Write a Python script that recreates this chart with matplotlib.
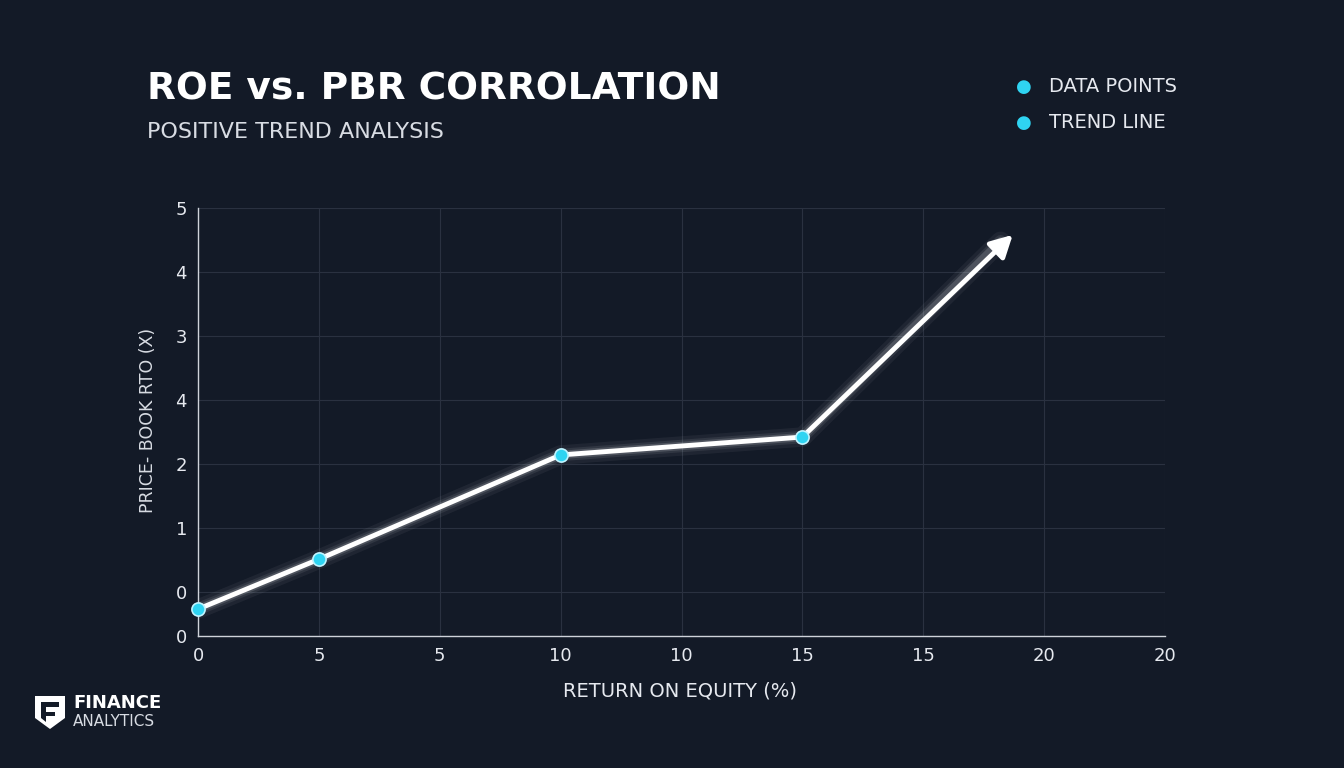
import matplotlib
matplotlib.use("Agg")
import matplotlib.pyplot as plt
from matplotlib.patches import Polygon

# data (axis units: x = tick slot index, y = position on the drawn scale)
x_tick_labels = ["0", "5", "5", "10", "10", "15", "15", "20", "20"]
y_tick_labels = ["0", "0", "1", "2", "4", "3", "4", "5"]
y_tick_pos = [0.0, 0.69, 1.69, 2.69, 3.69, 4.69, 5.69, 6.69]
pts_x = [0.0, 1.0, 3.0, 5.0]
pts_y = [0.42, 1.2, 2.83, 3.11]
arrow_end = (6.74, 6.27)

bg = "#131a27"
cyan = "#2fd4f2"
fig = plt.figure(figsize=(13.44, 7.68), dpi=100, facecolor=bg)
ax = fig.add_axes([198/1344, 132/768, 967/1344, 428/768], facecolor=bg)
ax.set_xlim(0, 8)
ax.set_ylim(0, 6.69)
ax.set_xticks(range(9))
ax.set_xticklabels(x_tick_labels)
ax.set_yticks(y_tick_pos)
ax.set_yticklabels(y_tick_labels)
ax.tick_params(colors="#e6e9ef", labelsize=13, length=0, pad=8)
ax.grid(color="#2a3140", linewidth=0.8)
for s in ["top", "right"]:
    ax.spines[s].set_visible(False)
for s in ["left", "bottom"]:
    ax.spines[s].set_color("#cfd3da")
    ax.spines[s].set_linewidth(1.0)

lx = pts_x + [arrow_end[0]]
ly = pts_y + [arrow_end[1]]
for w, a in [(14, 0.05), (9, 0.08), (6, 0.15)]:
    ax.plot(lx[:-1] + [lx[-1] - 0.1], ly[:-1] + [ly[-1] - 0.1], color="white", lw=w, alpha=a, solid_capstyle="round", zorder=2)
ax.plot(lx[:-1], ly[:-1], color="white", lw=3.5, zorder=3, solid_capstyle="round")
ax.annotate("", xy=arrow_end, xytext=(pts_x[-1], pts_y[-1]),
            arrowprops=dict(arrowstyle="-|>,head_length=1.3,head_width=0.7", color="white", lw=3.5, shrinkA=0, shrinkB=0), zorder=3)
ax.scatter(pts_x, pts_y, s=90, color=cyan, edgecolor="#bff4ff", linewidth=1.2, zorder=5, clip_on=False)

fig.text(147/1344, 1 - 90/768, "ROE vs. PBR CORROLATION", color="white", fontsize=27, fontweight="bold", va="center", family="DejaVu Sans")
fig.text(147/1344, 1 - 132/768, "POSITIVE TREND ANALYSIS", color="#d8dce3", fontsize=16, va="center")
for yy, t in [(87, "DATA POINTS"), (123, "TREND LINE")]:
    fig.text(1024/1344, 1 - yy/768, "●", color=cyan, fontsize=13, va="center", ha="center")
    fig.text(1049/1344, 1 - yy/768, t, color="#e6e9ef", fontsize=14, va="center")
fig.text(148/1344, 1 - 420/768, "PRICE- BOOK RTO (X)", color="#d8dce3", fontsize=12.5, rotation=90, va="center", ha="center")
fig.text(680/1344, 1 - 691/768, "RETURN ON EQUITY (%)", color="#e6e9ef", fontsize=14, va="center", ha="center")
# logo shield shape
shield = [(35, 696), (65, 696), (65, 718), (50, 729), (35, 718)]
fig.patches.append(Polygon([(px/1344, 1 - py/768) for px, py in shield], closed=True,
                           transform=fig.transFigure, facecolor="white", edgecolor="none"))
inner = [(41, 702), (59, 702), (59, 707), (46, 707), (46, 712), (55, 712), (55, 716), (46, 716), (46, 722), (41, 718)]
fig.patches.append(Polygon([(px/1344, 1 - py/768) for px, py in inner], closed=True,
                           transform=fig.transFigure, facecolor=bg, edgecolor="none"))
fig.text(73/1344, 1 - 703/768, "FINANCE", color="white", fontsize=13, fontweight="bold", va="center")
fig.text(73/1344, 1 - 721/768, "ANALYTICS", color="#d8dce3", fontsize=11, va="center")
fig.savefig("out.png", dpi=100, facecolor=bg)
